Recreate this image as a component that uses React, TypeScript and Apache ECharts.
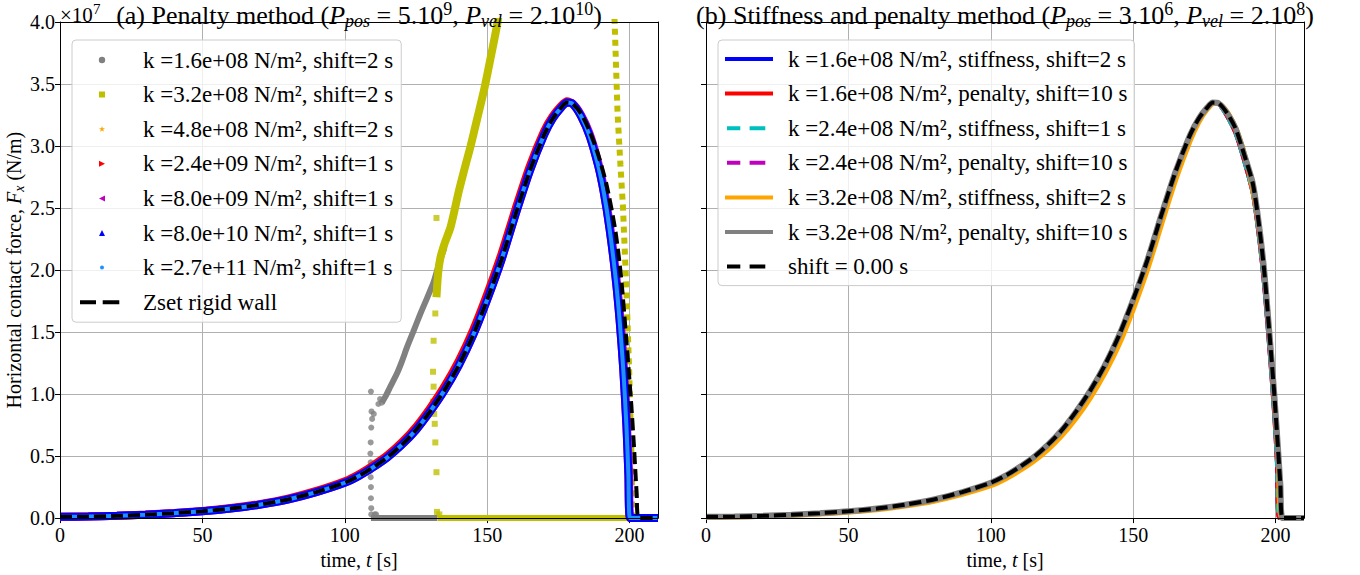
import React, { useEffect, useRef } from "react";
import * as echarts from "echarts";

const FONT = "'Liberation Serif', 'Times New Roman', serif";
type Pt = [number, number];

// ---------- ticks ----------
const timeTicks = [0, 50, 100, 150, 200];
const forceTicks = [0, 0.5, 1, 1.5, 2, 2.5, 3, 3.5, 4];
const forceOffsetBase = "×10";
const forceOffsetExp = "7";

// ---------- legend names ----------
const leftNames = [
  "k =1.6e+08 N/m², shift=2 s",
  "k =3.2e+08 N/m², shift=2 s",
  "k =4.8e+08 N/m², shift=2 s",
  "k =2.4e+09 N/m², shift=1 s",
  "k =8.0e+09 N/m², shift=1 s",
  "k =8.0e+10 N/m², shift=1 s",
  "k =2.7e+11 N/m², shift=1 s",
  "Zset rigid wall",
];
const rightNames = [
  "k =1.6e+08 N/m², stiffness, shift=2 s",
  "k =1.6e+08 N/m², penalty, shift=10 s",
  "k =2.4e+08 N/m², stiffness, shift=1 s",
  "k =2.4e+08 N/m², penalty, shift=10 s",
  "k =3.2e+08 N/m², stiffness, shift=2 s",
  "k =3.2e+08 N/m², penalty, shift=10 s",
  "shift = 0.00 s",
];

// ---------- data: [time s, force x1e7 N/m] ----------
const riseCommon: Pt[] = [
  [0, 0.01], [10, 0.013], [20, 0.018], [30, 0.027], [40, 0.04], [50, 0.055], [60, 0.077],
  [70, 0.108], [80, 0.15], [90, 0.21], [100, 0.285], [105, 0.34], [110, 0.41], [115, 0.49],
  [120, 0.59], [125, 0.71], [130, 0.86], [135, 1.03], [140, 1.23], [145, 1.47], [150, 1.76],
  [155, 2.08], [160, 2.45], [165, 2.8], [170, 3.09], [173, 3.22], [176, 3.31], [178, 3.35],
];
const leftStiffFall: Pt[] = [
  [180, 3.34], [183, 3.24], [186, 3.08], [189, 2.84], [191, 2.62], [193, 2.33], [195, 1.96],
  [196.5, 1.6], [197.8, 1.2], [198.9, 0.75], [199.6, 0.35], [200.2, 0], [205, 0], [210, 0],
];
const leftWallFall: Pt[] = [
  [180, 3.34], [183, 3.26], [186, 3.12], [189, 2.93], [192, 2.68], [195, 2.32], [197, 1.95],
  [199, 1.4], [200.5, 0.95], [201.5, 0.6], [202.5, 0.2], [203.2, 0], [210, 0],
];
const leftRedRise: Pt[] = [
  [0, 0.011], [10, 0.014], [20, 0.019], [30, 0.029], [40, 0.042], [50, 0.058], [60, 0.081],
  [70, 0.113], [80, 0.157], [90, 0.219], [100, 0.297], [105, 0.354], [110, 0.426], [115, 0.508],
  [120, 0.611], [125, 0.735], [130, 0.888], [135, 1.062], [140, 1.266], [145, 1.512], [150, 1.806],
  [155, 2.128], [160, 2.495], [165, 2.84], [170, 3.12], [173, 3.24], [176, 3.325], [178, 3.362],
];
const leftMagentaFall: Pt[] = [
  [180, 3.342], [183, 3.25], [186, 3.1], [189, 2.87], [191, 2.66], [193, 2.38], [195, 2.02],
  [196.6, 1.66], [197.9, 1.26], [199.0, 0.8], [199.8, 0.38], [200.4, 0], [210, 0],
];
const grayRise: Pt[] = [[0, 0.01], [30, 0.027], [60, 0.077], [80, 0.15], [100, 0.285], [108, 0.38]];
const grayJump: Pt[] = [
  [109.2, 1.02], [109.4, 0.86], [109.6, 0.8], [109.3, 0.73], [109.1, 0.61], [109.0, 0.52],
  [109.1, 0.45], [109.0, 0.38], [109.1, 0.33], [109.2, 0.25], [109.2, 0.16], [109.3, 0.08],
  [109.3, 0.03], [110.5, 0.03], [111.0, 0.03], [110.2, 0.84], [111.8, 0.92], [112.4, 0.96], [113.0, 0.93],
];
const grayZero: Pt[] = [[109.2, 0], [132.5, 0]];
const grayClimb: Pt[] = [
  [113.0, 0.93], [114.5, 0.99], [116, 1.06], [118.4, 1.17], [120, 1.26], [121.9, 1.38], [124, 1.5],
  [126.6, 1.65], [129, 1.78], [131.3, 1.91], [133.5, 2.08], [135, 2.18],
];
const yellowRise: Pt[] = [[0, 0.01], [30, 0.027], [60, 0.077], [80, 0.15], [100, 0.285], [115, 0.49], [125, 0.71], [131, 0.89]];
const yellowJump: Pt[] = [
  [132.5, 1.91], [132.3, 1.81], [131.8, 1.65], [131.2, 1.43], [131.0, 1.18], [131.2, 1.06],
  [131.0, 0.94], [131.4, 0.84], [131.6, 0.76], [131.8, 0.61], [132.2, 0.37], [132.4, 0.05],
  [133.2, 0.03], [132.2, 2.42],
];
const yellowClimb: Pt[] = [
  [132.2, 1.78], [132.8, 1.98], [133.6, 2.1], [135, 2.21], [137.2, 2.35], [140, 2.63], [142, 2.81],
  [144.2, 3.0], [146.5, 3.22], [148.9, 3.45], [151.3, 3.72], [153.6, 3.99], [154.5, 4.15],
];
const yellowZero: Pt[] = [[132.6, 0], [200.3, 0]];
const yellowFall: Pt[] = [
  [194.2, 4.3], [194.8, 3.98], [195.8, 3.26], [196.8, 2.85], [197.7, 2.51], [198.9, 1.84],
  [199.9, 1.17], [200.6, 0.57], [200.9, 0.2], [200.9, 0],
];
const rightLateFall: Pt[] = [
  [180, 3.345], [183, 3.265], [186, 3.14], [189, 2.93], [192, 2.7], [194, 2.4], [196, 2.0],
  [198, 1.45], [199.5, 1.02], [200.7, 0.62], [201.7, 0.27], [202.5, 0], [210, 0],
];
const rightEarlyFall: Pt[] = [
  [180, 3.34], [183, 3.24], [186, 3.1], [189, 2.88], [192, 2.62], [194, 2.3], [196, 1.88],
  [198, 1.32], [199.5, 0.85], [200.5, 0.45], [201.3, 0], [210, 0],
];
const rightOrange: Pt[] = [
  [0, 0.006], [10, 0.009], [20, 0.014], [30, 0.022], [40, 0.034], [50, 0.048], [60, 0.068],
  [70, 0.097], [80, 0.136], [90, 0.192], [100, 0.262], [105, 0.314], [110, 0.38], [115, 0.456],
  [120, 0.55], [125, 0.665], [130, 0.805], [135, 0.97], [140, 1.165], [145, 1.395], [150, 1.68],
  [155, 2.0], [160, 2.37], [165, 2.73], [170, 3.04], [173, 3.19], [176, 3.295], [178.5, 3.345],
  [181, 3.33], [184, 3.24], [187, 3.09], [190, 2.86], [193, 2.52], [195.5, 2.08], [197.5, 1.6],
  [199.5, 0.98], [201, 0.45], [202.2, 0], [210, 0],
];

// ---------- colours ----------
const C = {
  gray: "#808080", yellow: "#bfbf00", orange: "#ffa500", red: "#ff0000", magenta: "#bf00bf",
  blue: "#0000ff", dodger: "#1e90ff", black: "#000000", cyan: "#00bfbf",
};

// ---------- legend icons (58 x 12 box) ----------
const BOX = "M0 0L0 0Z M58 12L58 12Z ";
const ICON = {
  circle: "path://" + BOX + "M18.8 6a3.2 3.2 0 1 0 6.4 0a3.2 3.2 0 1 0 -6.4 0Z",
  square: "path://" + BOX + "M19 3L25 3L25 9L19 9Z",
  star: "path://" + BOX + "M22 2.8L22.75 5L25.1 5.05L23.2 6.4L23.9 8.6L22 7.3L20.1 8.6L20.8 6.4L18.9 5.05L21.25 5Z",
  triRight: "path://" + BOX + "M19 3L25 6L19 9Z",
  triLeft: "path://" + BOX + "M25 3L19 6L25 9Z",
  triUp: "path://" + BOX + "M19 9L22 3L25 9Z",
  dot: "path://" + BOX + "M20 6a2 2 0 1 0 4 0a2 2 0 1 0 -4 0Z",
  dashL: "path://" + BOX + "M0 4L16 4L16 8L0 8Z M22.7 4L39.3 4L39.3 8L22.7 8Z",
  solidR: "path://" + BOX + "M0 4L48 4L48 8L0 8Z",
  dashR: "path://" + BOX + "M2 4L15.3 4L15.3 8L2 8Z M24.6 4L40.3 4L40.3 8L24.6 8Z",
};

function rich(size: number, lh: number) {
  const s = Math.round(size * 0.7);
  const base = { fontFamily: FONT, color: "#000", fontWeight: "normal" as const };
  return {
    n: { ...base, fontSize: size, lineHeight: lh },
    i: { ...base, fontSize: size, lineHeight: lh, fontStyle: "italic" },
    sub: { ...base, fontSize: s, lineHeight: s, fontStyle: "italic", verticalAlign: "bottom" },
    sup: { ...base, fontSize: s, lineHeight: Math.round(size * 0.85), verticalAlign: "top" },
  };
}

function lineS(name: string, data: Pt[], color: string, width: number, ax: number, extra: any = {}) {
  return {
    type: "line", name, data, xAxisIndex: ax, yAxisIndex: ax, color,
    showSymbol: false, symbol: "none", smooth: 0.25, silent: true,
    lineStyle: { color, width, cap: "butt", ...(extra.lineStyle || {}) },
    ...Object.fromEntries(Object.entries(extra).filter(([k]) => k !== "lineStyle")),
  };
}
function scatterS(name: string, data: Pt[], color: string, symbol: string, size: number, ax: number) {
  return { type: "scatter", name, data, xAxisIndex: ax, yAxisIndex: ax, color, symbol, symbolSize: size, silent: true, itemStyle: { color } };
}

const GRID_TOP = 22, GRID_H = 501, GRID_W = 598;
const GRID_LEFT = [60, 706];

function mainX(g: number) {
  return {
    type: "value", gridIndex: g, min: 0, max: 210, position: "bottom",
    name: "{n|time, }{i|t}{n| [s]}", nameLocation: "middle", nameGap: 28,
    nameTextStyle: { rich: rich(20, 24) },
    axisLine: { show: false },
    axisTick: { show: true, length: 5, customValues: timeTicks, lineStyle: { color: "#000", width: 1 } },
    axisLabel: { customValues: timeTicks, color: "#000", fontFamily: FONT, fontSize: 20, margin: 7, formatter: (v: number) => String(v) },
    splitLine: { show: true, lineStyle: { color: "#b0b0b0", width: 1 } },
  };
}
function mainY(g: number) {
  return {
    type: "value", gridIndex: g, min: 0, max: 4, interval: 0.5, position: "left",
    name: g === 0 ? "{n|Horizontal contact force, }{i|F}{sub|x}{n| (N/m)}" : "",
    nameLocation: "middle", nameGap: 34, nameRotate: 90,
    nameTextStyle: { rich: rich(20, 24) },
    axisLine: { show: false },
    axisTick: { show: true, length: 5, lineStyle: { color: "#000", width: 1 } },
    axisLabel: { show: g === 0, color: "#000", fontFamily: FONT, fontSize: 20, margin: 5, formatter: (v: number) => v.toFixed(1) },
    splitLine: { show: true, lineStyle: { color: "#b0b0b0", width: 1 } },
  };
}
function overlayX(g: number, position: string) {
  return {
    type: "value", gridIndex: g, min: 0, max: 210, position, z: 10,
    axisLine: { show: true, onZero: false, lineStyle: { color: "#000", width: 1 } },
    axisTick: { show: false }, axisLabel: { show: false }, splitLine: { show: false },
  };
}
function overlayY(g: number, position: string) {
  return {
    type: "value", gridIndex: g, min: 0, max: 4, position, z: 10,
    axisLine: { show: true, onZero: false, lineStyle: { color: "#000", width: 1 } },
    axisTick: { show: false }, axisLabel: { show: false }, splitLine: { show: false },
  };
}

function legendBox(left: number, pad: number, names: string[], icons: string[]) {
  return {
    orient: "vertical", left, top: 40, padding: pad, itemWidth: 58, itemHeight: 12, itemGap: 10.6,
    selectedMode: false, symbolKeepAspect: false,
    backgroundColor: "rgba(255,255,255,0.8)", borderColor: "#cccccc", borderWidth: 1, borderRadius: 4,
    itemStyle: { borderWidth: 0 },
    textStyle: { fontFamily: FONT, fontSize: 23, color: "#000", lineHeight: 24 },
    data: names.map((name, k) => ({ name, icon: icons[k] })),
  };
}

export default function App() {
  const ref = useRef<HTMLDivElement>(null);
  useEffect(() => {
    const chart = echarts.init(ref.current!, null, { renderer: "svg" });
    const L = leftNames, R = rightNames;
    const leftShared = [...riseCommon, ...leftStiffFall];
    const titleStyle = { fontWeight: "normal", rich: rich(26, 30) };
    const plain = (size: number) => ({ fontFamily: FONT, fontSize: size, fontWeight: "normal", color: "#000" });
    const option: any = {
      animation: false,
      backgroundColor: "#ffffff",
      textStyle: { fontFamily: FONT },
      title: [
        {
          text: "{n|(a) Penalty method (}{i|P}{sub|pos}{n| = 5.10}{sup|9}{n|, }{i|P}{sub|vel}{n| = 2.10}{sup|10}{n|)}",
          left: GRID_LEFT[0] + GRID_W / 2, textAlign: "center", top: 0, padding: 0,
          textStyle: titleStyle,
        },
        {
          text: "{n|(b) Stiffness and penalty method (}{i|P}{sub|pos}{n| = 3.10}{sup|6}{n|, }{i|P}{sub|vel}{n| = 2.10}{sup|8}{n|)}",
          left: GRID_LEFT[1] + GRID_W / 2, textAlign: "center", top: 0, padding: 0,
          textStyle: titleStyle,
        },
        { text: forceOffsetBase, left: 60, top: 4, padding: 0, textStyle: plain(21) },
        { text: forceOffsetExp, left: 93, top: 1, padding: 0, textStyle: plain(15) },
      ],
      grid: GRID_LEFT.map((left) => ({ left, top: GRID_TOP, width: GRID_W, height: GRID_H, show: false })),
      xAxis: [mainX(0), mainX(1), overlayX(0, "top"), overlayX(0, "bottom"), overlayX(1, "top"), overlayX(1, "bottom")],
      yAxis: [mainY(0), mainY(1), overlayY(0, "left"), overlayY(0, "right"), overlayY(1, "left"), overlayY(1, "right")],
      legend: [
        legendBox(72, 8, L, [ICON.circle, ICON.square, ICON.star, ICON.triRight, ICON.triLeft, ICON.triUp, ICON.dot, ICON.dashL]),
        legendBox(718, 7, R, [ICON.solidR, ICON.solidR, ICON.dashR, ICON.dashR, ICON.solidR, ICON.solidR, ICON.dashR]),
      ],
      series: [
        // left panel
        lineS(L[0], grayRise, C.gray, 6, 0),
        lineS(L[0], grayZero, C.gray, 6, 0, { smooth: false }),
        lineS(L[0], grayClimb, C.gray, 6, 0),
        scatterS(L[0], grayJump, C.gray, "circle", 6, 0),
        lineS(L[1], yellowRise, C.yellow, 7, 0),
        lineS(L[1], yellowZero, C.yellow, 6, 0, { smooth: false }),
        lineS(L[1], yellowClimb, C.yellow, 8, 0),
        scatterS(L[1], yellowJump, C.yellow, "rect", 6, 0),
        lineS(L[1], yellowFall, C.yellow, 6, 0, { smooth: false, lineStyle: { type: [6, 5] } }),
        lineS(L[2], leftShared, C.orange, 6, 0),
        lineS(L[3], [...leftRedRise, ...leftStiffFall], C.red, 8, 0),
        lineS(L[4], [...riseCommon, ...leftMagentaFall], C.magenta, 8, 0),
        lineS(L[5], leftShared, C.blue, 8, 0),
        lineS(L[6], leftShared, C.dodger, 4, 0),
        lineS(L[7], [...riseCommon, ...leftWallFall], C.black, 4, 0, { lineStyle: { type: [12, 5] } }),
        // right panel
        lineS(R[0], [...riseCommon, ...rightEarlyFall], C.blue, 4, 1),
        lineS(R[1], [...riseCommon, ...rightEarlyFall], C.red, 4, 1),
        lineS(R[2], [...riseCommon, ...rightEarlyFall], C.cyan, 4, 1, { lineStyle: { type: [9, 6] } }),
        lineS(R[3], [...riseCommon, ...rightLateFall], C.magenta, 4, 1, { lineStyle: { type: [9, 6] } }),
        lineS(R[4], rightOrange, C.orange, 5, 1),
        lineS(R[5], [...riseCommon, ...rightLateFall], C.gray, 6, 1),
        lineS(R[6], [...riseCommon, ...rightLateFall], C.black, 4, 1, { lineStyle: { type: [12, 5] } }),
      ],
    };
    chart.setOption(option);
    return () => chart.dispose();
  }, []);
  return (
    <div
      ref={ref}
      style={{ position: "absolute", left: 0, top: 0, width: 1360, height: 575, background: "#fff" }}
    />
  );
}
